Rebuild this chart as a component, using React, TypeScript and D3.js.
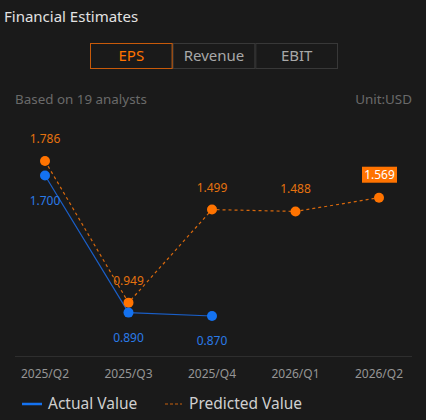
import React, {useEffect, useRef} from "react";
import * as d3 from 'd3';

const WIDTH = 426;
const HEIGHT = 420;
const FONT = '"Noto Sans", "Open Sans", sans-serif';
const ORANGE = '#ff7300';
const BLUE = '#1472f0';

const quarters = ['2025/Q2', '2025/Q3', '2025/Q4', '2026/Q1', '2026/Q2'];
const actualValues = [1.700, 0.890, 0.870];
const predictedValues = [1.786, 0.949, 1.499, 1.488, 1.569];
const tabs = ['EPS', 'Revenue', 'EBIT'];

const App: React.FC = () => {
    const ref = useRef(null);

    useEffect(() => {
        const svg = d3.select(ref.current);
        svg.selectAll('*').remove();

        svg.append('rect').attr('width', WIDTH).attr('height', HEIGHT).attr('fill', '#1a1a1a');

        svg.append('text').attr('x', 4).attr('y', 22).text('Financial Estimates')
            .attr('fill', '#e2e2e2').style('font-size', '15px');

        // tabs
        const tabX = d3.scaleBand().domain(tabs).range([90, 338]);
        const tabG = svg.append('g');
        tabG.selectAll('rect.tab').data(tabs).enter().append('rect')
            .attr('x', d => tabX(d)! + 0.5).attr('y', 43.5)
            .attr('width', tabX.bandwidth() - 1).attr('height', 25)
            .attr('fill', '#1a1a1a').attr('stroke', '#383838');
        tabG.append('rect')
            .attr('x', tabX('EPS')! + 0.5).attr('y', 43.5)
            .attr('width', tabX.bandwidth() - 1).attr('height', 25)
            .attr('fill', 'none').attr('stroke', '#c85a0a');
        tabG.selectAll('text').data(tabs).enter().append('text')
            .attr('x', d => tabX(d)! + tabX.bandwidth() / 2).attr('y', 61)
            .attr('text-anchor', 'middle')
            .attr('fill', d => d === 'EPS' ? ORANGE : '#a8a8a8')
            .style('font-size', '15px').text(d => d);

        svg.append('text').attr('x', 15).attr('y', 104).text('Based on 19 analysts')
            .attr('fill', '#6a6a6a').style('font-size', '13.4px');
        svg.append('text').attr('x', 412).attr('y', 104).attr('text-anchor', 'end').text('Unit:USD')
            .attr('fill', '#6a6a6a').style('font-size', '13.4px');

        const x = d3.scalePoint().domain(quarters).range([45, 379]);
        const y = d3.scaleLinear().domain([0.870, 1.786]).range([316, 161]);

        // axis
        svg.append('line').attr('x1', 15).attr('x2', 412).attr('y1', 356.5).attr('y2', 356.5)
            .attr('stroke', '#2e2e2e');
        svg.append('g').selectAll('text').data(quarters).enter().append('text')
            .attr('x', d => x(d)!).attr('y', 378).attr('text-anchor', 'middle')
            .attr('fill', '#959595').style('font-size', '12px').text(d => d);

        const line = d3.line<number>().x((_, i) => x(quarters[i])!).y(d => y(d));

        svg.append('path').datum(predictedValues).attr('d', line)
            .attr('fill', 'none').attr('stroke', '#d8680c').attr('stroke-width', 1.2)
            .attr('stroke-dasharray', '3,3');
        svg.append('path').datum(actualValues).attr('d', line)
            .attr('fill', 'none').attr('stroke', '#1a5fc8').attr('stroke-width', 1.2);

        svg.append('g').selectAll('circle').data(predictedValues).enter().append('circle')
            .attr('cx', (_, i) => x(quarters[i])!).attr('cy', d => y(d)).attr('r', 5)
            .attr('fill', ORANGE);
        svg.append('g').selectAll('circle').data(actualValues).enter().append('circle')
            .attr('cx', (_, i) => x(quarters[i])!).attr('cy', d => y(d)).attr('r', 5)
            .attr('fill', BLUE);

        // labels
        const last = predictedValues.length - 1;
        svg.append('g').selectAll('text').data(predictedValues.slice(0, last)).enter().append('text')
            .attr('x', (_, i) => x(quarters[i])!).attr('y', d => y(d) - 18)
            .attr('text-anchor', 'middle').attr('fill', '#e5720f')
            .style('font-size', '12px').text(d => d.toFixed(3));
        const lx = x(quarters[last])!;
        const ly = y(predictedValues[last]);
        svg.append('rect').attr('x', lx - 17).attr('y', ly - 31).attr('width', 35).attr('height', 16)
            .attr('fill', ORANGE);
        svg.append('text').attr('x', lx + 0.5).attr('y', ly - 18.5).attr('text-anchor', 'middle')
            .attr('fill', '#ffffff').style('font-size', '12px').text(predictedValues[last].toFixed(3));

        svg.append('g').selectAll('text').data(actualValues).enter().append('text')
            .attr('x', (_, i) => x(quarters[i])!).attr('y', d => y(d) + 29)
            .attr('text-anchor', 'middle').attr('fill', '#2a7be8')
            .style('font-size', '12px').text(d => d.toFixed(3));

        // legend
        svg.append('line').attr('x1', 22).attr('x2', 42).attr('y1', 404).attr('y2', 404)
            .attr('stroke', BLUE).attr('stroke-width', 2.5);
        svg.append('text').attr('x', 48).attr('y', 409).text('Actual Value')
            .attr('fill', '#cfcfcf').style('font-size', '15.5px');
        svg.append('line').attr('x1', 165).attr('x2', 182).attr('y1', 404).attr('y2', 404)
            .attr('stroke', '#c8600c').attr('stroke-width', 1).attr('stroke-dasharray', '3,2');
        svg.append('text').attr('x', 189).attr('y', 409).text('Predicted Value')
            .attr('fill', '#cfcfcf').style('font-size', '15.5px');
    }, []);

    return (
        <div style={{position: 'absolute', left: 0, top: 0}}>
            <svg ref={ref} width={WIDTH} height={HEIGHT} style={{display: 'block', fontFamily: FONT}}/>
        </div>
    );
};

export default App;
